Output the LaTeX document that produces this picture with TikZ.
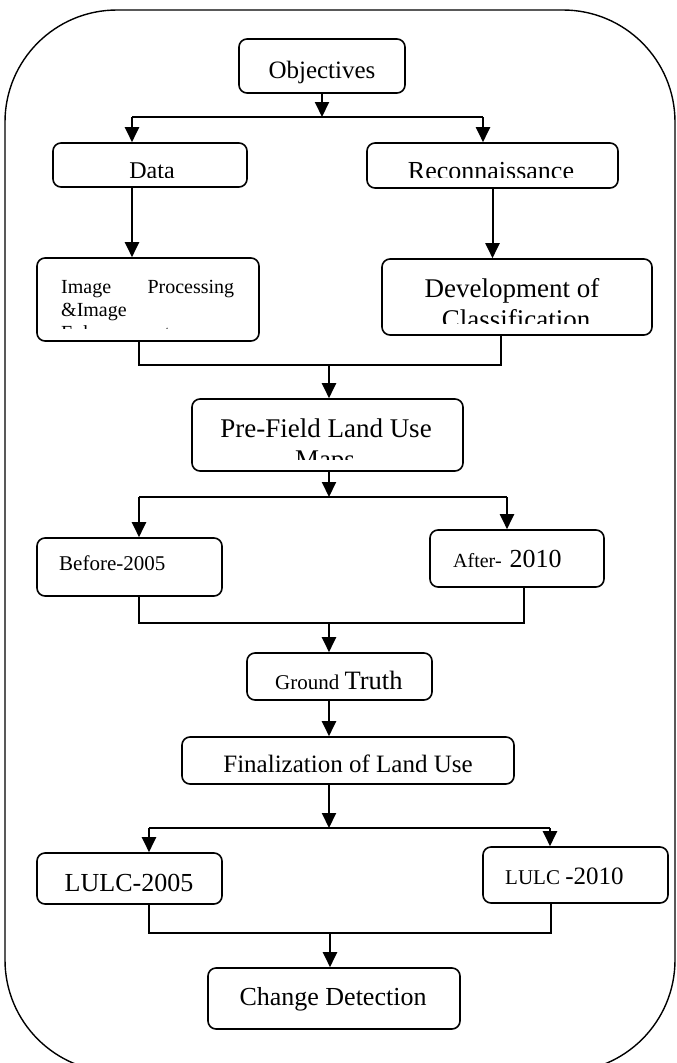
\documentclass[tikz,border=0pt]{standalone}
\usepackage{fontspec}
\setmainfont{Liberation Serif}
\usetikzlibrary{arrows.meta}
\newcommand\fsz[1]{\fontsize{#1}{#1}\selectfont}
\begin{document}
\begin{tikzpicture}[x=1pt,y=-1pt,
  box/.style={draw, line width=1.6pt, rounded corners=8pt, inner sep=0pt},
  txt/.style={inner sep=0pt},
  arr/.style={line width=2pt, -{Triangle[length=15pt,width=14pt]}},
  conn/.style={line width=1.8pt}]
\useasboundingbox (0,0) rectangle (677,1063);
\clip (0,0) rectangle (677,1063);
% outer frame
\draw[line width=1.4pt, rounded corners=112pt] (5,10) rectangle (675,1072);

% boxes
\node[box, minimum width=166pt, minimum height=54pt] (obj) at (322,66) {};
\node[box, minimum width=194pt, minimum height=44pt] (data) at (150,165) {};
\node[box, minimum width=251pt, minimum height=45pt] (rec) at (492.5,165.5) {};
\node[box, minimum width=222pt, minimum height=83pt] (img) at (148,299.5) {};
\node[box, minimum width=270pt, minimum height=76pt] (dev) at (517,297) {};
\node[box, minimum width=271pt, minimum height=72pt] (pre) at (327.5,435) {};
\node[box, minimum width=185pt, minimum height=58pt] (bef) at (129.5,567) {};
\node[box, minimum width=174pt, minimum height=57pt] (aft) at (517,558.5) {};
\node[box, minimum width=185pt, minimum height=47pt] (gt) at (339.5,676.5) {};
\node[box, minimum width=332pt, minimum height=47pt] (fin) at (348,760.5) {};
\node[box, minimum width=185pt, minimum height=51pt] (l05) at (129.5,878.5) {};
\node[box, minimum width=185pt, minimum height=56pt] (l10) at (575.5,875) {};
\node[box, minimum width=252pt, minimum height=61pt] (cd) at (334,998.5) {};

% texts
\node[txt, anchor=base] (objt) at (322,78) {\fsz{25}Objectives};
\begin{scope}
\clip (53,143) rectangle (247,177);
\node[txt, anchor=base] (datat) at (152,178) {\fsz{24}Data};
\end{scope}
\begin{scope}
\clip (367,143) rectangle (618,177);
\node[txt, anchor=base] (rect) at (491,179) {\fsz{26}Reconnaissance};
\end{scope}
\node[txt, anchor=base west] (imgt1) at (61,293) {\fsz{20}\makebox[173pt][s]{Image\hfill Processing}};
\node[txt, anchor=base west] (imgt2) at (61,316) {\fsz{20}\&Image};
\begin{scope}
\clip (37,258) rectangle (259,328);
\node[txt, anchor=base west] (imgt3) at (61,339) {\fsz{20}Enhancement};
\end{scope}
\node[txt, anchor=base] (devt1) at (512,297) {\fsz{27}Development of};
\begin{scope}
\clip (382,259) rectangle (652,323);
\node[txt, anchor=base] (devt2) at (516,328) {\fsz{27}Classification};
\end{scope}
\node[txt, anchor=base] (pret1) at (326,437) {\fsz{27}Pre-Field Land Use};
\begin{scope}
\clip (192,399) rectangle (463,459);
\node[txt, anchor=base] (pret2) at (325,468) {\fsz{27}Maps};
\end{scope}
\node[txt, anchor=base west] (beft) at (59,570) {\fsz{21}Before-2005};
\node[txt, anchor=base west] (aftt) at (453,567) {\fsz{20}After-\hspace{8pt}\fsz{26}2010};
\node[txt, anchor=base west] (gtt) at (275,689) {\fsz{21}Ground \fsz{26.5}Truth};
\node[txt, anchor=base] (fint) at (348,772) {\fsz{25}Finalization of Land Use};
\node[txt, anchor=base] (l05t) at (129,891) {\fsz{26}LULC-2005};
\node[txt, anchor=base west] (l10t) at (505,884) {\fsz{21}LULC \fsz{25}-2010};
\node[txt, anchor=base] (cdt) at (333,1005) {\fsz{26}Change Detection};

% junction coordinates
\coordinate (j1) at (322,117);
\coordinate (j1l) at (132,117);
\coordinate (j1r) at (483,117);
\coordinate (m1) at (329,365);
\coordinate (m1l) at (139,365);
\coordinate (m1r) at (501,365);
\coordinate (j2) at (329,497);
\coordinate (j2l) at (139,497);
\coordinate (j2r) at (507,497);
\coordinate (m2) at (329,623);
\coordinate (m2l) at (139,623);
\coordinate (m2r) at (524,623);
\coordinate (j3) at (329,828);
\coordinate (j3l) at (149,828);
\coordinate (j3r) at (550,828);
\coordinate (m3) at (330,933);
\coordinate (m3l) at (149,933);
\coordinate (m3r) at (551,933);

% connectors
\draw[arr] (obj.south) -- (j1);
\draw[conn] (j1l) -- (j1r);
\draw[arr] (j1l) -- (j1l |- data.north);
\draw[arr] (j1r) -- (j1r |- rec.north);
\draw[arr] (data.south -| j1l) -- (j1l |- img.north);
\draw[arr] (rec.south) -- (rec.south |- dev.north);

\draw[conn] (m1l |- img.south) -- (m1l) -- (m1r) -- (m1r |- dev.south);
\draw[arr] (m1) -- (m1 |- pre.north);

\draw[arr] (pre.south -| j2) -- (j2);
\draw[conn] (j2l) -- (j2r);
\draw[arr] (j2l) -- (j2l |- bef.north);
\draw[arr] (j2r) -- (j2r |- aft.north);

\draw[conn] (m2l |- bef.south) -- (m2l) -- (m2r) -- (m2r |- aft.south);
\draw[arr] (m2) -- (m2 |- gt.north);
\draw[arr] (gt.south -| m2) -- (m2 |- fin.north);

\draw[arr] (fin.south -| j3) -- (j3);
\draw[conn] (j3l) -- (j3r);
\draw[arr] (j3l) -- (j3l |- l05.north);
\draw[arr] (j3r) -- (j3r |- l10.north);

\draw[conn] (m3l |- l05.south) -- (m3l) -- (m3r) -- (m3r |- l10.south);
\draw[arr] (m3) -- (m3 |- cd.north);
\end{tikzpicture}
\end{document}
